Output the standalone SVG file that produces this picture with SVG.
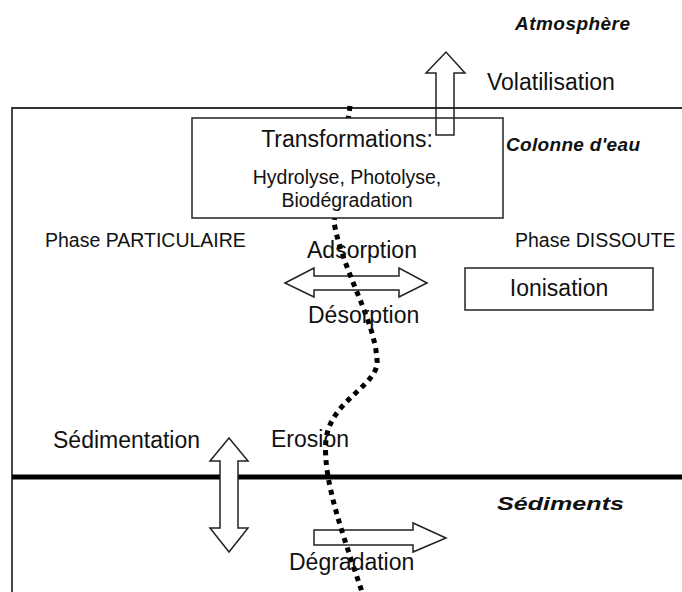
<svg xmlns="http://www.w3.org/2000/svg" width="682" height="592" viewBox="0 0 682 592">
<style>
.t{font-family:"Liberation Sans",Arial,sans-serif;fill:#111;}
.big{font-size:23px;}
.mid{font-size:19.5px;}
.bi{font-family:"Liberation Sans",Arial,sans-serif;font-weight:bold;font-style:italic;font-size:19px;fill:#111;}
.arrow{fill:#fff;stroke:#222;stroke-width:1.5;}
.box{fill:#fff;stroke:#222;stroke-width:1.5;}
.dots{fill:none;stroke:#000;stroke-width:5;stroke-dasharray:5 5;}
</style>
<rect width="682" height="592" fill="#fff"/>
<g id="frame">
<path d="M682,108 H12 V592" fill="none" stroke="#333" stroke-width="1.8"/>
<line x1="12" y1="477" x2="682" y2="477" stroke="#000" stroke-width="5"/>
</g>
<g id="labels-zones">
<text class="bi" x="515" y="30" textLength="115" lengthAdjust="spacing">Atmosphère</text>
<text class="bi" x="506" y="151" textLength="134" lengthAdjust="spacing">Colonne d'eau</text>
<text class="bi" x="497" y="510" font-size="20" textLength="127" lengthAdjust="spacingAndGlyphs">Sédiments</text>
<text class="t mid" x="45" y="247">Phase PARTICULAIRE</text>
<text class="t mid" x="515" y="247">Phase DISSOUTE</text>
</g>
<g id="connectors">
<polygon id="adsorption-arrow" class="arrow" points="285,283 314,268 314,276 399,276 399,268 427,283 399,297 399,290 314,290 314,297"/>
<polygon id="sedimentation-arrow" class="arrow" points="229,438 248,461 238,461 238,528 248,528 229,552 210,528 220,528 220,461 210,461"/>
<polygon id="degradation-arrow" class="arrow" points="314,530 413,530 413,523 446,538 413,552 413,545 314,545"/>
<path id="interface" class="dots" d="M350,106 L334,222 C342,270 375,320 377,360 C380,385 330,400 326,440 C322,480 345,540 362,592"/>
</g>
<g id="transformations">
<rect class="box" x="192" y="118" width="311" height="100"/>
<text class="t big" x="347" y="147" text-anchor="middle">Transformations:</text>
<text class="t mid" x="347" y="184" text-anchor="middle">Hydrolyse, Photolyse,</text>
<text class="t mid" x="347" y="207" text-anchor="middle">Biodégradation</text>
</g>
<g id="volatilisation">
<polygon points="436,135 436,73 426,73 446,52 465,73 454,73 454,135" fill="none" stroke="#222" stroke-width="1.5"/>
<text class="t big" x="487" y="90">Volatilisation</text>
</g>
<g id="ionisation">
<rect class="box" x="465" y="268" width="188" height="42"/>
<text class="t big" x="559" y="296" text-anchor="middle">Ionisation</text>
</g>
<g id="process-labels">
<text class="t big" x="307" y="258">Adsorption</text>
<text class="t big" x="308" y="323">Désorption</text>
<text class="t big" x="53" y="448">Sédimentation</text>
<text class="t big" x="271" y="447">Erosion</text>
<text class="t big" x="289" y="570">Dégradation</text>
</g>
</svg>
